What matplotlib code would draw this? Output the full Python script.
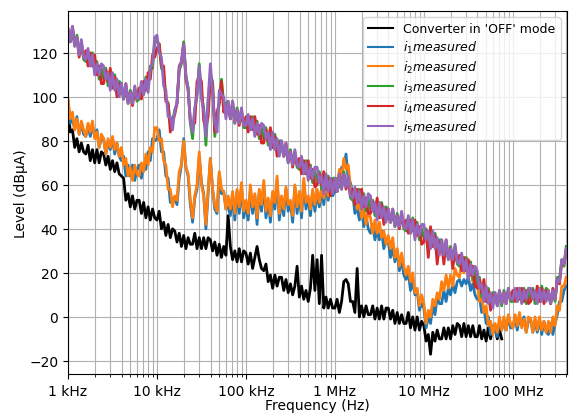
import numpy as np
import matplotlib
matplotlib.use("Agg")
import matplotlib.pyplot as plt
from matplotlib.ticker import EngFormatter

# frequency grid in log10(Hz): 1 kHz .. ~400 MHz, 0.025 decade per sample
log_f = np.linspace(3.0, 8.6, 225)
freq = 10 ** log_f

# one row = 0.2 decade (8 samples)

# converter switched off (background), measured up to ~75 MHz
nivel_off = [
    96, 84, 85, 77, 81, 75, 79, 75,
    74, 78, 71, 76, 70, 76, 70, 75,
    74, 69, 73, 67, 71, 66, 70, 65,
    64, 63, 53, 56, 50, 55, 49, 53,
    53, 47, 52, 45, 50, 44, 49, 45,
    44, 48, 40, 43, 37, 42, 36, 40,
    39, 34, 38, 32, 37, 31, 36, 33,
    33, 38, 31, 36, 31, 36, 31, 36,
    35, 30, 34, 28, 33, 27, 32, 28,
    46, 32, 26, 30, 25, 31, 25, 30,
    29, 24, 29, 22, 27, 32, 26, 22,
    21, 24, 16, 19, 13, 19, 14, 18,
    18, 12, 17, 11, 15, 10, 14, 23,
    9, 14, 8, 12, 7, 13, 28, 12,
    26, 6, 28, 4, 9, 4, 8, 4,
    4, 8, 2, 7, 16, 17, 15, 7,
    7, 2, 22, 0, 5, 0, 5, 1,
    1, 5, -1, 4, -1, 5, -1, 4,
    4, -1, 3, -3, 2, -3, 1, -3,
    -3, 2, -5, 0, -6, 0, -6, -2,
    -4, -11, -8, -17, -7, -11, -6, -10,
    -10, -5, -10, -5, -10, -4, -8, -3,
    -4, -9, -3, -9, -4, -9, -4, -9,
    -9, -4, -10, -6, -11, -5, -10, -5,
    -5, -10, -6, -10,
]

i1 = [
    98, 88, 90, 85, 91, 83, 88, 83,
    82, 87, 82, 87, 82, 85, 77, 81,
    81, 74, 79, 76, 81, 74, 79, 73,
    71, 73, 64, 69, 64, 69, 62, 67,
    69, 63, 69, 67, 75, 71, 81, 80,
    81, 85, 75, 75, 64, 63, 52, 54,
    54, 51, 63, 69, 81, 68, 64, 51,
    43, 54, 58, 73, 61, 56, 40, 56,
    72, 58, 49, 47, 65, 56, 57, 49,
    50, 46, 55, 44, 57, 47, 59, 45,
    51, 44, 58, 47, 55, 42, 57, 48,
    60, 45, 53, 43, 56, 49, 62, 44,
    53, 46, 58, 48, 52, 43, 59, 47,
    55, 45, 61, 49, 54, 46, 57, 48,
    56, 50, 58, 51, 60, 53, 61, 55,
    57, 63, 59, 68, 68, 74, 62, 61,
    56, 47, 50, 44, 49, 41, 46, 40,
    38, 42, 35, 40, 35, 39, 31, 35,
    34, 27, 31, 25, 30, 21, 26, 19,
    17, 20, 12, 16, 10, 12, 3, 6,
    4, -5, 0, -3, 5, 1, 9, 6,
    6, 12, 7, 13, 10, 15, 11, 16,
    17, 14, 17, 15, 18, 12, 15, 10,
    8, 9, 2, 4, -3, 0, -8, -4,
    -6, -9, -3, -6, -1, -6, 0, -5,
    -5, 0, -6, 0, -4, 0, -7, -2,
    -1, -7, -2, -7, -1, -8, -2, -7,
    -8, -3, -8, -3, 1, 7, 7, 12,
    14,
]

i2 = [
    99, 90, 93, 85, 90, 83, 89, 85,
    82, 88, 84, 89, 81, 84, 77, 83,
    81, 74, 81, 77, 82, 76, 79, 73,
    77, 69, 72, 64, 68, 62, 69, 65,
    64, 70, 66, 74, 69, 77, 75, 86,
    86, 80, 81, 71, 69, 58, 58, 50,
    55, 53, 66, 69, 80, 68, 65, 53,
    45, 55, 60, 75, 60, 55, 42, 58,
    72, 58, 51, 48, 66, 58, 57, 49,
    55, 49, 57, 47, 58, 50, 61, 48,
    53, 47, 60, 50, 56, 45, 58, 51,
    62, 48, 54, 46, 57, 52, 64, 47,
    55, 49, 59, 51, 53, 46, 60, 50,
    57, 48, 63, 52, 55, 49, 58, 51,
    58, 52, 59, 54, 61, 55, 62, 57,
    63, 59, 67, 63, 72, 67, 69, 59,
    53, 56, 49, 53, 45, 49, 42, 48,
    45, 38, 44, 38, 43, 36, 39, 33,
    37, 31, 36, 27, 31, 23, 29, 23,
    19, 23, 16, 20, 11, 13, 5, 10,
    6, -3, 3, 0, 8, 5, 11, 8,
    16, 12, 19, 13, 19, 14, 22, 19,
    18, 25, 20, 27, 19, 23, 16, 21,
    16, 7, 10, 2, 5, -4, -2, -8,
    -3, -7, 0, -6, 0, -6, 1, -3,
    -5, 1, -4, 2, -5, -1, -7, 0,
    -1, -7, 0, -6, 0, -6, -2, -7,
    -2, -7, 0, -4, 5, 3, 14, 14,
    18,
]

i3 = [
    131, 125, 130, 123, 128, 120, 125, 117,
    116, 120, 114, 120, 113, 116, 108, 113,
    108, 113, 105, 110, 104, 110, 104, 107,
    106, 99, 104, 97, 103, 98, 104, 98,
    99, 105, 101, 109, 105, 114, 113, 125,
    125, 124, 113, 111, 99, 97, 88, 89,
    94, 97, 112, 115, 125, 110, 104, 88,
    81, 94, 101, 115, 101, 95, 78, 98,
    110, 107, 82, 90, 97, 108, 97, 97,
    98, 90, 96, 88, 95, 89, 94, 86,
    86, 90, 85, 91, 85, 89, 81, 86,
    81, 86, 78, 83, 77, 83, 77, 80,
    80, 73, 77, 70, 76, 70, 75, 68,
    67, 71, 65, 71, 65, 69, 61, 66,
    62, 66, 58, 63, 58, 64, 59, 63,
    63, 57, 63, 58, 66, 60, 63, 54,
    53, 57, 52, 58, 52, 56, 48, 54,
    49, 53, 46, 51, 45, 52, 46, 50,
    49, 43, 47, 41, 47, 42, 47, 40,
    39, 44, 38, 45, 38, 43, 35, 40,
    36, 40, 33, 38, 32, 38, 32, 35,
    35, 28, 33, 26, 32, 27, 32, 24,
    23, 27, 21, 27, 20, 25, 17, 21,
    15, 18, 9, 14, 7, 13, 7, 11,
    11, 5, 11, 5, 12, 7, 13, 7,
    7, 12, 7, 13, 8, 13, 6, 12,
    8, 13, 6, 12, 7, 14, 9, 13,
    12, 6, 11, 7, 18, 17, 26, 23,
    32,
]

i4 = [
    129, 125, 132, 124, 127, 118, 124, 118,
    121, 114, 120, 114, 119, 110, 114, 106,
    106, 112, 107, 113, 104, 109, 100, 106,
    104, 99, 106, 98, 102, 96, 103, 99,
    104, 99, 107, 103, 111, 108, 119, 118,
    122, 124, 114, 114, 98, 97, 84, 89,
    92, 97, 114, 116, 124, 108, 103, 89,
    88, 88, 107, 109, 107, 89, 86, 91,
    108, 106, 84, 93, 97, 107, 93, 96,
    96, 90, 98, 89, 94, 87, 93, 87,
    91, 84, 91, 85, 91, 83, 87, 79,
    79, 85, 80, 86, 77, 82, 73, 79,
    78, 73, 79, 71, 75, 68, 74, 69,
    72, 65, 71, 65, 71, 63, 67, 59,
    60, 65, 60, 66, 58, 63, 55, 62,
    61, 57, 65, 59, 65, 58, 62, 55,
    58, 51, 58, 52, 58, 50, 54, 47,
    47, 52, 48, 54, 45, 51, 42, 49,
    47, 43, 49, 42, 46, 40, 46, 41,
    44, 38, 44, 39, 44, 37, 41, 33,
    34, 39, 27, 41, 32, 37, 24, 34,
    33, 24, 35, 27, 31, 22, 31, 25,
    28, 21, 27, 21, 26, 19, 23, 14,
    13, 17, 11, 17, 7, 12, 3, 10,
    9, 6, 12, 6, 11, 6, 12, 8,
    12, 7, 13, 8, 13, 7, 12, 6,
    7, 12, 8, 14, 7, 13, 6, 12,
    10, 6, 13, 8, 17, 15, 25, 24,
    30,
]

i5 = [
    131, 125, 132, 123, 127, 119, 126, 118,
    117, 122, 114, 119, 110, 115, 110, 115,
    114, 108, 111, 103, 111, 103, 108, 100,
    106, 99, 106, 97, 102, 97, 105, 99,
    100, 107, 101, 108, 102, 113, 115, 127,
    128, 120, 118, 105, 103, 91, 91, 85,
    94, 97, 113, 116, 124, 109, 104, 89,
    84, 95, 101, 114, 99, 94, 82, 99,
    115, 102, 88, 84, 103, 101, 100, 90,
    98, 90, 98, 88, 94, 88, 95, 87,
    87, 92, 85, 90, 82, 88, 83, 88,
    87, 81, 84, 76, 84, 76, 81, 73,
    80, 73, 79, 70, 75, 69, 76, 69,
    68, 73, 65, 70, 62, 68, 63, 68,
    68, 61, 64, 56, 65, 57, 63, 56,
    63, 57, 65, 58, 65, 59, 64, 55,
    54, 59, 52, 57, 49, 55, 50, 56,
    55, 48, 52, 44, 52, 45, 50, 43,
    49, 43, 49, 41, 46, 41, 48, 41,
    40, 46, 38, 44, 35, 42, 37, 42,
    42, 35, 39, 31, 39, 31, 36, 28,
    35, 28, 35, 26, 31, 26, 33, 25,
    24, 29, 21, 26, 17, 24, 19, 23,
    21, 13, 15, 7, 14, 6, 11, 4,
    11, 5, 12, 6, 11, 6, 13, 8,
    8, 13, 7, 13, 6, 12, 8, 13,
    13, 8, 12, 6, 13, 7, 12, 7,
    12, 6, 12, 8, 17, 16, 26, 24,
    31,
]

series = [i1, i2, i3, i4, i5]
labels = ['$i_1 measured$', '$i_2 measured$', '$i_3 measured$',
          '$i_4 measured$', '$i_5 measured$']
cores = ['tab:blue', 'tab:orange', 'tab:green', 'tab:red', 'tab:purple']

fig = plt.figure(figsize=(5.74, 4.14), dpi=100)
ax = fig.add_axes([0.1185, 0.094, 0.869, 0.877])

ax.plot(freq[:len(nivel_off)], nivel_off, color='black', lw=2.0,
        label="Converter in 'OFF' mode")
for valores, rotulo, cor in zip(series, labels, cores):
    ax.plot(freq, valores, color=cor, lw=2.0, label=rotulo)

ax.set_xscale('log')
ax.xaxis.set_major_formatter(EngFormatter(unit='Hz'))
ax.set_xlim(1e3, 10 ** 8.607)
ax.set_ylim(-26, 139)
ax.grid(True, which='both')
ax.set_xlabel('Frequency (Hz)', labelpad=0)
ax.set_ylabel('Level (dBµA)', labelpad=1)
leg = ax.legend(loc='upper right', fontsize=9, labelspacing=0.3)
for linha in leg.get_lines():
    linha.set_linewidth(1.5)

plt.savefig('out.png')
